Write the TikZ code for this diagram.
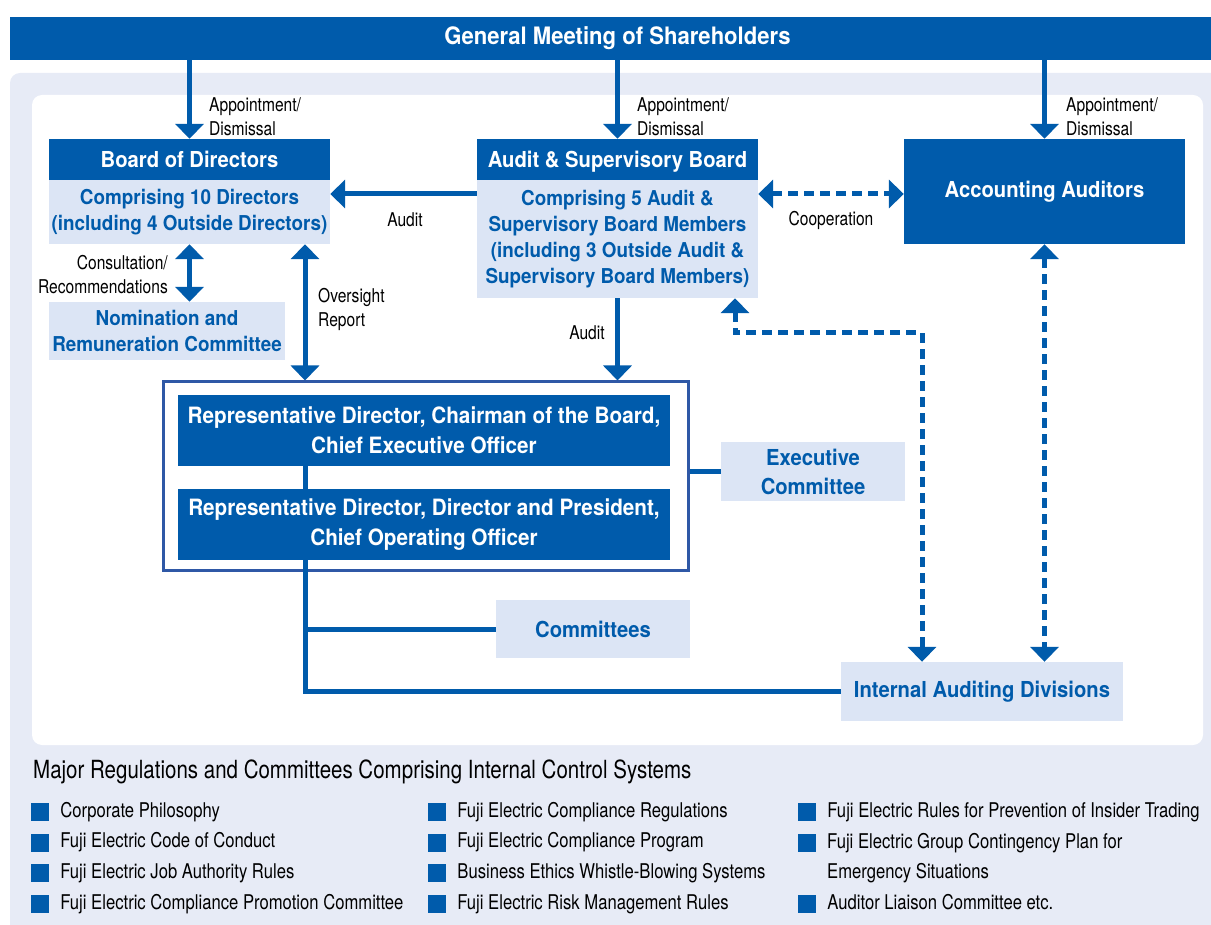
\documentclass[tikz,border=0pt]{standalone}
\usepackage{fontspec}
\setmainfont{TeX Gyre Heros}[FakeStretch=0.82]
\newfontfamily\cnbold{TeX Gyre Heros}[FakeStretch=0.92]
\usetikzlibrary{arrows.meta,positioning}
\definecolor{fuji-blue}{HTML}{005BAB}
\definecolor{fuji-light}{HTML}{DCE5F5}
\definecolor{panel-gray}{HTML}{E7EBF6}
\definecolor{frame-blue}{HTML}{2F58A6}
\newcommand{\titlefont}{\cnbold\bfseries\fontsize{24}{29}\selectfont}
\newcommand{\headfont}{\cnbold\bfseries\fontsize{22}{29}\selectfont}
\newcommand{\repfont}{\cnbold\bfseries\fontsize{22.5}{29.5}\selectfont}
\newcommand{\bodyfont}{\cnbold\bfseries\fontsize{20.5}{26}\selectfont}
\newcommand{\labelfont}{\fontsize{19}{24}\selectfont}
\newcommand{\legheadfont}{\fontsize{25}{30}\selectfont}
\newcommand{\legfont}{\fontsize{20.3}{30.5}\selectfont}
\tikzstyle{darkbox}=[fill=fuji-blue,text=white,font=\headfont,align=center,inner sep=0pt]
\tikzstyle{headbox}=[darkbox,text depth=0pt,minimum width=281pt,minimum height=41pt]
\tikzstyle{lightbox}=[fill=fuji-light,text=fuji-blue,font=\bodyfont,align=center,inner sep=0pt]
\tikzstyle{textlabel}=[font=\labelfont,inner sep=0pt]
\tikzstyle{arr}=[line width=5pt,draw=fuji-blue,-{Triangle[width=28pt,length=15pt]}]
\tikzstyle{darr}=[line width=5pt,draw=fuji-blue,{Triangle[width=28pt,length=15pt]}-{Triangle[width=28pt,length=15pt]}]
\tikzstyle{dasharr}=[darr,dash pattern=on 10pt off 6pt]
\tikzstyle{conn}=[line width=5pt,draw=fuji-blue]
\tikzstyle{legsquare}=[fill=fuji-blue,minimum size=18pt,inner sep=0pt]
\tikzstyle{legtext}=[font=\legfont,inner sep=0pt,text height=14.6pt,text depth=4.2pt]
\newcommand{\legenditem}[4]{% name, x, y, text
  \node[legsquare] (#1-sq) at (#2,#3) {};
  \node[legtext,right=11pt of #1-sq] (#1) {#4};
}
\begin{document}
\begin{tikzpicture}[x=1pt,y=-1pt]
\useasboundingbox (0,0) rectangle (1211,925);
% background panels
\fill[panel-gray,rounded corners=10pt] (10,73) rectangle (1225,940);
\fill[white,rounded corners=10pt] (32,95) rectangle (1203,745);

% shareholders
\node[darkbox,font=\titlefont,minimum width=1215pt,minimum height=43pt] (gms) at (617.5,38.5) {General Meeting of Shareholders};

% boards and auditors
\node[headbox] (bodh) at (189.5,159.5) {Board of Directors};
\node[lightbox,minimum width=281pt,minimum height=64pt] (bodb) at (189.5,212) {Comprising 10 Directors\\(including 4 Outside Directors)};
\node[headbox] (asbh) at (617.5,159.5) {Audit \& Supervisory Board};
\node[lightbox,minimum width=281pt,minimum height=118pt] (asbb) at (617.5,239) {Comprising 5 Audit \&\\Supervisory Board Members\\(including 3 Outside Audit \&\\Supervisory Board Members)};
\node[darkbox,minimum width=281pt,minimum height=105pt] (acc) at (1044.5,191.5) {Accounting Auditors};
\node[lightbox,minimum width=236pt,minimum height=58pt] (nrc) at (167,331) {Nomination and\\Remuneration Committee};

% execution
\node[draw=frame-blue,fill=white,line width=3pt,minimum width=525pt,minimum height=188pt] (execframe) at (425.5,476) {};
\node[darkbox,font=\repfont,minimum width=492pt,minimum height=71pt] (rep1) at (424,430.5) {Representative Director, Chairman of the Board,\\Chief Executive Officer};
\node[darkbox,font=\repfont,minimum width=492pt,minimum height=71pt] (rep2) at (424,524.5) {Representative Director, Director and President,\\Chief Operating Officer};
\node[lightbox,font=\headfont,minimum width=184pt,minimum height=59pt] (exc) at (813,471.5) {Executive\\Committee};
\node[lightbox,font=\headfont,minimum width=194pt,minimum height=58pt] (com) at (593,629) {Committees};
\node[lightbox,font=\headfont,minimum width=282pt,minimum height=59pt] (iad) at (982,691.5) {Internal Auditing Divisions};

% helper points
\coordinate (spine) at (305,0);
\coordinate (audity) at (0,194);
\coordinate (dashx) at (735,333);
\coordinate (dashy) at (922,333);

% appointment / dismissal
\draw[arr] (gms.south -| bodh.north) -- (bodh.north);
\draw[arr] (gms.south -| asbh.north) -- (asbh.north);
\draw[arr] (gms.south -| acc.north) -- (acc.north);
\node[textlabel,anchor=west,align=left] (ad1) at (209,116.5) {Appointment/\\Dismissal};
\node[textlabel,anchor=west,align=left] (ad2) at (637,116.5) {Appointment/\\Dismissal};
\node[textlabel,anchor=west,align=left] (ad3) at (1066,116.5) {Appointment/\\Dismissal};

% audit and cooperation
\draw[arr] (asbb.west |- audity) -- (bodb.east |- audity);
\node[textlabel] (audit1) at (405,220) {Audit};
\draw[dasharr] (asbb.east |- audity) -- (acc.west |- audity);
\node[textlabel] (coop) at (831,220) {Cooperation};

\draw[darr] (bodb.south) -- (nrc.north -| bodb.south);
\node[textlabel,anchor=east,align=right] (consult) at (168,274.5) {Consultation/\\Recommendations};
\draw[darr] (bodb.south -| spine) -- (execframe.north -| spine);
\node[textlabel,anchor=west,align=left] (oversight) at (318,309.5) {Oversight\\Report};
\draw[arr] (asbb.south) -- (execframe.north -| asbb.south);
\node[textlabel] (audit2) at (587,333) {Audit};

% internal audit links
\draw[dasharr] (asbb.south -| dashx) -- (dashx) -- (dashy) -- (iad.north -| dashy);
\draw[dasharr] (acc.south) -- (iad.north -| acc.south);

% lines of execution
\draw[conn] (rep1.south -| spine) -- (rep2.north -| spine);
\draw[conn] (rep2.south -| spine) |- (iad.west);
\draw[conn] (spine |- com.west) -- (com.west);
\draw[conn] (execframe.east |- exc.west) -- (exc.west);

% legend
\node[font=\legheadfont,anchor=west,inner sep=0pt] (leghead) at (33,772) {Major Regulations and Committees Comprising Internal Control Systems};
\foreach \txt [count=\i] in {Corporate Philosophy,Fuji Electric Code of Conduct,Fuji Electric Job Authority Rules,Fuji Electric Compliance Promotion Committee} {
  \pgfmathsetmacro{\rowy}{812+30.67*(\i-1)}
  \legenditem{regA\i}{40}{\rowy}{\txt}
}
\foreach \txt [count=\i] in {Fuji Electric Compliance Regulations,Fuji Electric Compliance Program,Business Ethics Whistle-Blowing Systems,Fuji Electric Risk Management Rules} {
  \pgfmathsetmacro{\rowy}{812+30.67*(\i-1)}
  \legenditem{regB\i}{437}{\rowy}{\txt}
}
\legenditem{regC1}{807}{812}{Fuji Electric Rules for Prevention of Insider Trading}
\node[legsquare] (regC2-sq) at (807,843) {};
\node[legtext,anchor=west,align=left,text height=,text depth=] (regC2) at (827,858) {Fuji Electric Group Contingency Plan for\\Emergency Situations};
\legenditem{regC3}{807}{904}{Auditor Liaison Committee etc.}
\end{tikzpicture}
\end{document}
